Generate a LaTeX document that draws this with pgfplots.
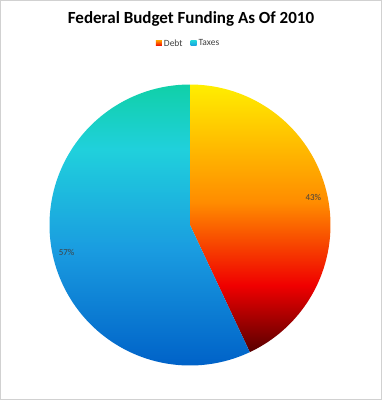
\documentclass[border=0pt]{standalone}
\usepackage{pgfplots}
\pgfplotsset{compat=1.18}
\usepgfplotslibrary{polar}
\usepackage{pgfplotstable}
\usepackage{fontspec}
\setmainfont{Carlito}
\definecolor{d1}{HTML}{580000}
\definecolor{d2}{HTML}{F00000}
\definecolor{d3}{HTML}{FF8C00}
\definecolor{d4}{HTML}{FFEE00}
\definecolor{t1}{HTML}{0062C8}
\definecolor{t2}{HTML}{1A9CE0}
\definecolor{t3}{HTML}{20D0DC}
\definecolor{t4}{HTML}{10D0A8}
\definecolor{lbl}{HTML}{404040}
\pgfdeclareverticalshading{debtshade}{100bp}{color(0bp)=(d1); color(25bp)=(d1); color(37.5bp)=(d2); color(53bp)=(d3); color(75bp)=(d4); color(100bp)=(d4)}
\pgfdeclareverticalshading{taxshade}{100bp}{color(0bp)=(t1); color(25bp)=(t1); color(45.6bp)=(t2); color(63.4bp)=(t3); color(75bp)=(t4); color(100bp)=(t4)}
\pgfdeclareverticalshading{debtleg}{100bp}{color(0bp)=(d2); color(25bp)=(d2); color(75bp)=(d3); color(100bp)=(d3)}
\pgfdeclareverticalshading{taxleg}{100bp}{color(0bp)=(t2); color(25bp)=(t2); color(75bp)=(t3); color(100bp)=(t3)}
\pgfplotstableread{
name value
Debt 43
Taxes 57
}\piedata
\pgfplotstablegetelem{0}{value}\of\piedata \let\debtv\pgfplotsretval
\pgfplotstablegetelem{1}{value}\of\piedata \let\taxv\pgfplotsretval
\begin{document}
\begin{tikzpicture}[x=1bp,y=1bp]
\draw[black!18, line width=1.5bp] (0.75,0.75) rectangle (381.25,399.25);
\node[font=\bfseries\fontsize{17bp}{20bp}\selectfont] at (191,381) {Federal Budget Funding As Of 2010};
\coordinate (piec) at (190,175);
\pgfmathsetmacro\aDebt{90-3.6*\debtv}
\pgfmathsetmacro\aTaxEnd{90+3.6*\taxv}
\pgfmathsetmacro\mDebt{90-1.8*\debtv}
\pgfmathsetmacro\mTax{90+1.8*\taxv}
\begin{polaraxis}[at={(piec)}, anchor=center, scale only axis,
  width=281bp, height=281bp, hide axis, ymin=0, ymax=1, clip=false,
  legend style={at={(axis description cs:0.495,1.146)}, anchor=center, draw=none, fill=none,
    legend columns=2, font=\fontsize{9.5bp}{11bp}\selectfont, text=lbl,
    /tikz/every even column/.append style={column sep=6bp}},
  legend cell align=left]
\addplot[draw=none, shading=debtshade, domain=\aDebt:90, samples=200,
  legend image code/.code={\shade[shading=debtleg] (0bp,-2.5bp) rectangle (6bp,2.5bp);}]
  {1} -- (axis cs:0,0) -- cycle;
\addlegendentry{Debt}
\addplot[draw=none, shading=taxshade, domain=90:\aTaxEnd, samples=301,
  legend image code/.code={\shade[shading=taxleg] (0bp,-2.5bp) rectangle (6bp,2.5bp);}]
  {1} -- (axis cs:0,0) -- cycle;
\addlegendentry{Taxes}
\node[font=\fontsize{9bp}{10bp}\selectfont, text=lbl] at (axis cs:\mDebt,0.9) {43\%};
\node[font=\fontsize{9bp}{10bp}\selectfont, text=lbl] at (axis cs:\mTax,0.9) {57\%};
\end{polaraxis}
\end{tikzpicture}
\end{document}
